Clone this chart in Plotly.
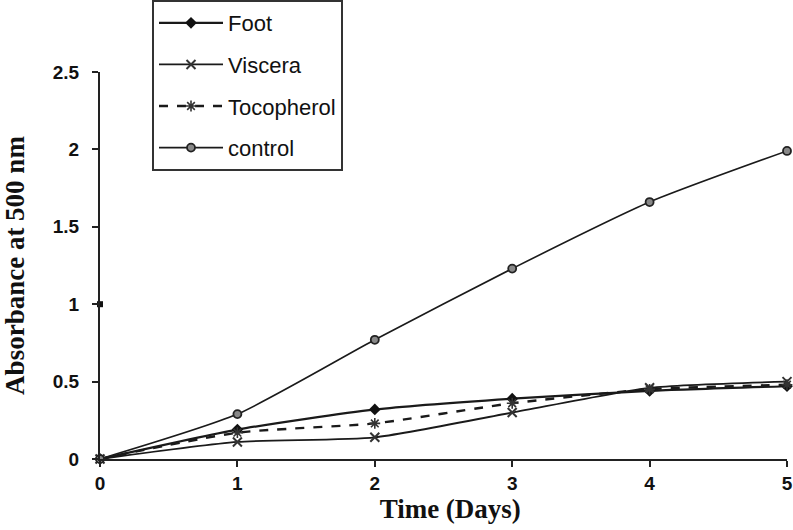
import plotly.graph_objects as go

days = [0, 1, 2, 3, 4, 5]
foot = [0.0, 0.19, 0.32, 0.39, 0.44, 0.47]
viscera = [0.0, 0.11, 0.14, 0.30, 0.46, 0.50]
tocopherol = [0.0, 0.17, 0.23, 0.36, 0.45, 0.48]
control = [0.0, 0.29, 0.77, 1.23, 1.66, 1.99]
stray_x = [0]
stray_y = [1.0]

x_ticks = [0, 1, 2, 3, 4, 5]
x_tick_text = ["0", "1", "2", "3", "4", "5"]
y_ticks = [0, 0.5, 1, 1.5, 2, 2.5]
y_tick_text = ["0", "0.5", "1", "1.5", "2", "2.5"]

tick_font = dict(family="Liberation Sans, Arial", size=19, color="#111111", weight="bold")

fig = go.Figure()
fig.add_trace(go.Scatter(x=days, y=foot, name="Foot", mode="lines+markers",
                         line=dict(color="#1a1a1a", width=2.2, shape="spline", smoothing=0.6),
                         marker=dict(symbol="diamond", size=9, color="#111111"),
                         legendgroup="a"))
fig.add_trace(go.Scatter(x=days, y=viscera, name="Viscera", mode="lines+markers",
                         line=dict(color="#1a1a1a", width=1.8, shape="spline", smoothing=0.6),
                         marker=dict(symbol="x-thin", size=9, color="#333333",
                                     line=dict(width=2, color="#333333")),
                         legendgroup="b"))
fig.add_trace(go.Scatter(x=days, y=tocopherol, name="Tocopherol", mode="lines+markers",
                         line=dict(color="#1a1a1a", width=2.4, dash="dash", shape="spline", smoothing=0.6),
                         marker=dict(symbol="asterisk-open", size=9, color="#333333",
                                     line=dict(width=1.6, color="#333333")),
                         legendgroup="c"))
fig.add_trace(go.Scatter(x=days, y=control, name="control", mode="lines+markers",
                         line=dict(color="#1a1a1a", width=1.6, shape="spline", smoothing=0.6),
                         marker=dict(symbol="circle", size=8, color="#888888",
                                     line=dict(width=1.8, color="#222222")),
                         legendgroup="d"))
fig.add_trace(go.Scatter(x=stray_x, y=stray_y, mode="markers", showlegend=False,
                         marker=dict(symbol="square", size=6, color="#111111")))

fig.update_layout(
    width=793, height=530,
    margin=dict(l=100, r=6, t=72, b=71, autoexpand=False),
    paper_bgcolor="white", plot_bgcolor="white",
    showlegend=True,
    legend=dict(x=0.0757, y=1.186, xanchor="left", yanchor="top",
                bordercolor="#333333", borderwidth=2, bgcolor="white",
                font=dict(family="Liberation Sans, Arial", size=22, color="#111111"),
                itemwidth=64, traceorder="grouped", tracegroupgap=10),
    xaxis=dict(range=[0, 5], tickvals=x_ticks, ticktext=x_tick_text, showgrid=False, zeroline=False,
               showline=True, linecolor="#222222", linewidth=2, automargin=False,
               ticks="outside", ticklen=6, tickcolor="#222222", tickwidth=2,
               tickfont=tick_font,
               title=dict(text="&nbsp;&nbsp;<b>Time (Days)</b>", standoff=6,
                          font=dict(family="Liberation Serif, Times New Roman", size=27, color="#111111"))),
    yaxis=dict(range=[0, 2.5], tickvals=y_ticks, ticktext=y_tick_text, showgrid=False, zeroline=False,
               showline=True, linecolor="#222222", linewidth=2, automargin=False,
               ticks="outside", ticklen=6, tickcolor="#222222", tickwidth=2,
               ticklabelstandoff=9,
               tickfont=tick_font,
               title=dict(text="<b>Absorbance at 500 nm</b>", standoff=22,
                          font=dict(family="Liberation Serif, Times New Roman", size=27, color="#111111"))),
)
fig.update_traces(cliponaxis=False)

fig.write_html("out.html", config={"displayModeBar": False},
               post_script="document.body.style.margin='0';document.body.style.overflow='hidden';")
